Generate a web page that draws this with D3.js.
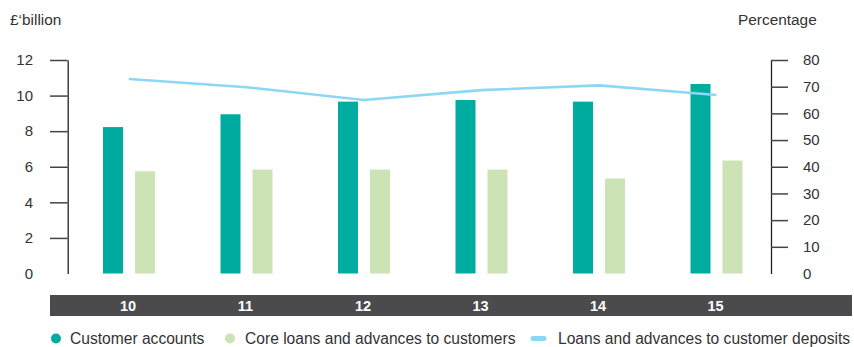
<!DOCTYPE html>
<html>
<head>
<meta charset="utf-8">
<script src="https://cdn.jsdelivr.net/npm/d3@7"></script>
<style>
  html, body { margin: 0; padding: 0; background: #fff; }
  svg { display: block; font-family: "Liberation Sans", Arial, sans-serif; }
</style>
</head>
<body>
<svg id="chart" width="854" height="347"></svg>
<script>
// Years shown along the band
const years = ["10", "11", "12", "13", "14", "15"];
// £ billion
const customerAccounts = [8.23, 8.95, 9.66, 9.75, 9.66, 10.65];
const coreLoans = [5.75, 5.84, 5.84, 5.84, 5.34, 6.35];
// Percentage
const loanDepositRatio = [72.9, 69.8, 65.0, 68.7, 70.5, 66.9];

const leftTicks = [0, 2, 4, 6, 8, 10, 12];
const rightTicks = [0, 10, 20, 30, 40, 50, 60, 70, 80];

const seriesNames = ["Customer accounts", "Core loans and advances to customers", "Loans and advances to customer deposits"];
const colors = { accounts: "#00aba0", core: "#cce4b5", ratio: "#8dd7f5" };

const svg = d3.select("#chart");

const x = d3.scaleBand().domain(years).range([70.25, 775.25]).padding(0);
const sub = d3.scaleBand().domain(["accounts", "core"]).range([-26, 26]).paddingInner(0.375).paddingOuter(0);
const yL = d3.scaleLinear().domain([0, 12]).range([273.5, 60]);
const yR = d3.scaleLinear().domain([0, 80]).range([273.5, 60]);

const center = d => x(d) + x.bandwidth() / 2;

// Left axis
const gL = svg.append("g").attr("transform", "translate(67.7,0)")
  .call(d3.axisLeft(yL).tickValues(leftTicks).tickSize(17.7).tickSizeOuter(0).tickPadding(17).tickFormat(d3.format("d")));
// Right axis
const gR = svg.append("g").attr("transform", "translate(771,0)")
  .call(d3.axisRight(yR).tickValues(rightTicks).tickSize(17).tickSizeOuter(0).tickPadding(15).tickFormat(d3.format("d")));

[gL, gR].forEach(g => {
  g.select(".domain").attr("stroke", "#222").attr("stroke-width", 1.3);
  g.selectAll(".tick line").attr("stroke", "#444").attr("stroke-width", 1.5)
    .filter(d => d === 0).remove();
  g.selectAll(".tick text").attr("fill", "#333").style("font-size", "15px");
});

// Axis titles
svg.append("text").attr("x", 10).attr("y", 25).attr("fill", "#333").style("font-size", "15.4px").text("£‘billion");
svg.append("text").attr("x", 738).attr("y", 25).attr("fill", "#333").style("font-size", "15.4px").text("Percentage");

// Bars
const groups = svg.append("g").selectAll("g").data(years).join("g")
  .attr("transform", d => `translate(${center(d)},0)`);
groups.append("rect")
  .attr("x", sub("accounts")).attr("width", sub.bandwidth())
  .attr("y", (d, i) => yL(customerAccounts[i]))
  .attr("height", (d, i) => yL(0) - yL(customerAccounts[i]))
  .attr("fill", colors.accounts);
groups.append("rect")
  .attr("x", sub("core")).attr("width", sub.bandwidth())
  .attr("y", (d, i) => yL(coreLoans[i]))
  .attr("height", (d, i) => yL(0) - yL(coreLoans[i]))
  .attr("fill", colors.core);

// Ratio line
const line = d3.line().x((d, i) => center(years[i])).y(d => yR(d));
svg.append("path").datum(loanDepositRatio)
  .attr("d", line).attr("fill", "none")
  .attr("stroke", colors.ratio).attr("stroke-width", 2.6);

// Category band
svg.append("rect").attr("x", 50).attr("y", 295).attr("width", 802).attr("height", 21).attr("fill", "#4b4b4d");
svg.append("g").selectAll("text").data(years).join("text")
  .attr("x", d => center(d) - 1).attr("y", 310.5)
  .attr("text-anchor", "middle").attr("fill", "#fff")
  .style("font-size", "14.5px").style("font-weight", "bold")
  .text(d => d);

// Legend
const legend = svg.append("g");
legend.append("circle").attr("cx", 56).attr("cy", 338.5).attr("r", 5).attr("fill", colors.accounts);
legend.append("text").attr("x", 70).attr("y", 344).attr("fill", "#333").style("font-size", "15.6px").text(seriesNames[0]);
legend.append("circle").attr("cx", 230).attr("cy", 338.5).attr("r", 5).attr("fill", colors.core);
legend.append("text").attr("x", 245).attr("y", 344).attr("fill", "#333").style("font-size", "15.6px").text(seriesNames[1]);
legend.append("line").attr("x1", 533).attr("x2", 544).attr("y1", 338.5).attr("y2", 338.5)
  .attr("stroke", colors.ratio).attr("stroke-width", 5).attr("stroke-linecap", "round");
legend.append("text").attr("x", 558).attr("y", 344).attr("fill", "#333").style("font-size", "15.6px").text(seriesNames[2]);
</script>
</body>
</html>
